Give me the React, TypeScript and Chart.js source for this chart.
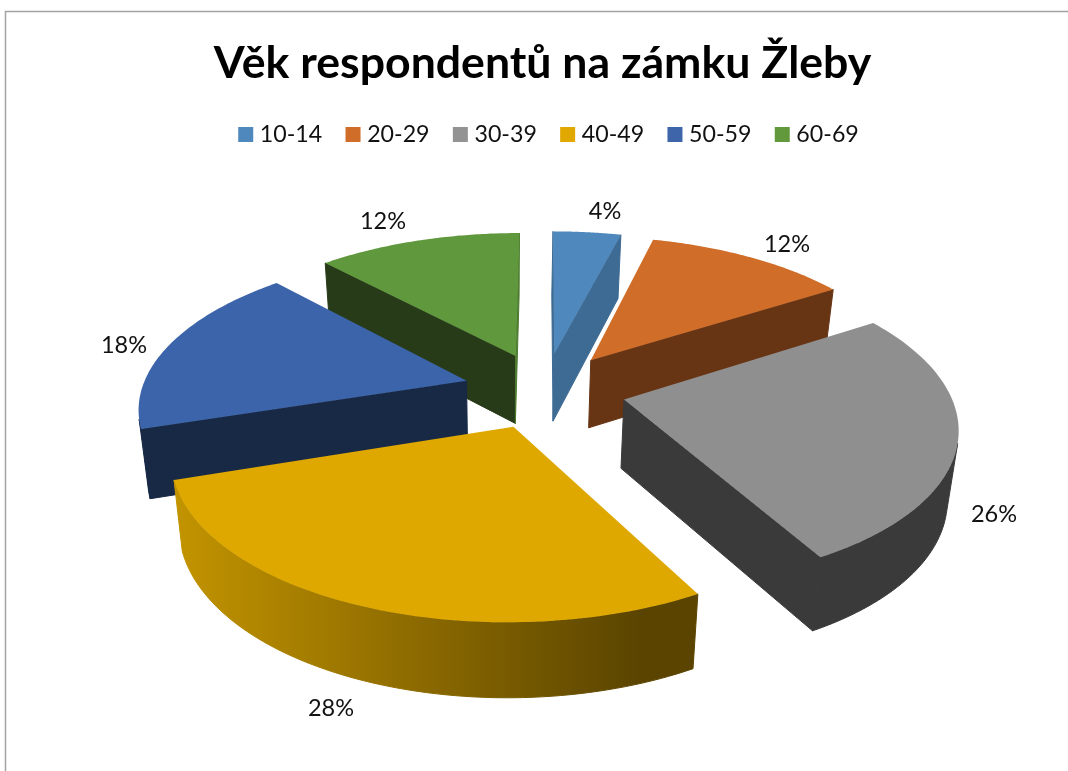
import React, { useEffect, useRef } from "react";
import { Chart, registerables } from "chart.js";

Chart.register(...registerables);

const titleText = "Věk respondentů na zámku Žleby";
const categories = ["10-14", "20-29", "30-39", "40-49", "50-59", "60-69"];
const shares = [4, 12, 26, 28, 18, 12];

const topColors = ["#4f88bc", "#cf6d29", "#8f8f8f", "#dfa800", "#3c64aa", "#60983d"];
const legendColors = ["#4f88bc", "#cf6d29", "#939393", "#e0a800", "#3e64aa", "#63993d"];
const startCutColors = ["#3e6b94", "#673414", "#3a3a3a", "#5a4400", "#182945", "#283b18"];
const endCutColors = ["#3e6b94", "#673414", "#3a3a3a", "#5a4400", "#182945", "#4e7c30"];
const rimLeftColors = ["#3e6b94", "#673414", "#3a3a3a", "#c39400", "#182945", "#283b18"];
const rimRightColors = ["#3e6b94", "#673414", "#3a3a3a", "#5a4400", "#182945", "#283b18"];
const labelAnchors: [number, number][] = [
  [605, 211], [787, 244], [994, 514], [331, 708], [124, 345], [383, 221],
];

// view of the tilted pie
const view = {
  cx: 544.5, cy: 390, rx: 325, ry: 152, persp: 0.157, depth: 68.5,
  shrinkX: 0.025, shrinkY: 0.03, driftX: -1, depthPersp: 0.85, explode: 0.25,
};

function project(X: number, Y: number, z: number): [number, number] {
  const f = 1 / (1 - view.persp * Y);
  return [
    view.cx + view.rx * X * f * (1 - view.shrinkX * z) + view.driftX * z,
    view.cy + view.ry * Y * f * (1 - view.shrinkY * z) + view.depth * z * (1 + (f - 1) * view.depthPersp),
  ];
}

const pie3d = {
  id: "pie3d",
  afterLayout(chart: any) {
    const shift = (box: any, d: number) => { box.left += d; box.right += d; };
    shift(chart.titleBlock, 8.5);
    shift(chart.legend, 17);
  },
  beforeDraw(chart: any) {
    const { ctx, width, height } = chart;
    ctx.save();
    ctx.fillStyle = "#ffffff";
    ctx.fillRect(0, 0, width, height);
    ctx.strokeStyle = "#a3a3a3";
    ctx.lineWidth = 1.5;
    ctx.beginPath();
    ctx.moveTo(5.5, height);
    ctx.lineTo(5.5, 11.5);
    ctx.lineTo(width, 11.5);
    ctx.stroke();
    ctx.restore();
  },
  beforeDatasetsDraw(chart: any) {
    const { ctx } = chart;
    const arcs: any[] = chart.getDatasetMeta(0).data;
    const slices = arcs.map((arc, i) => {
      const { startAngle, endAngle } = arc.getProps(["startAngle", "endAngle"], true);
      return { i, a0: startAngle, a1: endAngle, mid: (startAngle + endAngle) / 2 };
    });
    slices.sort((p, q) => Math.sin(p.mid) - Math.sin(q.mid));
    const fillPoly = (pts: [number, number][], fill: any, seal = false) => {
      ctx.beginPath();
      pts.forEach((p, k) => (k ? ctx.lineTo(p[0], p[1]) : ctx.moveTo(p[0], p[1])));
      ctx.closePath();
      ctx.fillStyle = fill;
      ctx.fill();
      if (seal) {
        ctx.strokeStyle = fill;
        ctx.lineWidth = 1;
        ctx.stroke();
      }
    };
    const visible = (a: [number, number], b: [number, number], aLow: [number, number]) =>
      (b[0] - a[0]) * (aLow[1] - a[1]) - (b[1] - a[1]) * (aLow[0] - a[0]) < 0;

    ctx.save();
    for (const s of slices) {
      const ox = Math.cos(s.mid) * view.explode;
      const oy = Math.sin(s.mid) * view.explode;
      const n = 72;
      const angles = Array.from({ length: n + 1 }, (_, k) => s.a0 + ((s.a1 - s.a0) * k) / n);
      const top = angles.map((a) => project(ox + Math.cos(a), oy + Math.sin(a), 0));
      const low = angles.map((a) => project(ox + Math.cos(a), oy + Math.sin(a), 1));
      const apexTop = project(ox, oy, 0);
      const apexLow = project(ox, oy, 1);

      // cut faces
      if (visible(apexTop, top[0], apexLow)) fillPoly([apexTop, top[0], low[0], apexLow], startCutColors[s.i], true);
      if (visible(top[n], apexTop, low[n])) fillPoly([top[n], apexTop, apexLow, low[n]], endCutColors[s.i], true);

      // curved rim
      let first = -1, last = -1;
      for (let k = 0; k < n; k++) {
        if (visible(top[k], top[k + 1], low[k])) {
          if (first < 0) first = k;
          last = k + 1;
        }
      }
      if (first >= 0) {
        const xs = top.map((p) => p[0]);
        const grad = ctx.createLinearGradient(Math.min(...xs), 0, Math.max(...xs), 0);
        grad.addColorStop(0, rimLeftColors[s.i]);
        grad.addColorStop(0.89, rimRightColors[s.i]);
        grad.addColorStop(1, rimRightColors[s.i]);
        fillPoly([...top.slice(first, last + 1), ...low.slice(first, last + 1).reverse()], grad, true);
      }

      // top face
      fillPoly([apexTop, ...top], topColors[s.i]);
    }
    ctx.restore();
    return false;
  },
  afterDraw(chart: any) {
    const { ctx } = chart;
    const total = shares.reduce((a, b) => a + b, 0);
    ctx.save();
    ctx.fillStyle = "#111111";
    ctx.font = "23.5px Lato";
    ctx.textAlign = "center";
    ctx.textBaseline = "middle";
    shares.forEach((v, i) => {
      ctx.fillText(`${Math.round((v / total) * 100)}%`, labelAnchors[i][0], labelAnchors[i][1]);
    });
    ctx.restore();
  },
};

export default function App() {
  const ref = useRef<HTMLCanvasElement | null>(null);
  useEffect(() => {
    document.body.style.margin = "0";
    const chart = new Chart(ref.current as HTMLCanvasElement, {
      type: "pie",
      data: {
        labels: categories,
        datasets: [{ data: shares, backgroundColor: topColors, borderWidth: 0 }],
      },
      options: {
        responsive: false,
        animation: false,
        plugins: {
          title: {
            display: true,
            text: titleText,
            color: "#000000",
            font: { family: "Lato", size: 44.6, weight: "bold" },
            padding: { top: 37, bottom: 4 },
          },
          legend: {
            display: true,
            position: "top",
            labels: {
              color: "#111111",
              font: { family: "Lato", size: 23.2 },
              boxWidth: 5,
              boxHeight: 5,
              padding: 28.3,
              generateLabels: () =>
                categories.map((text, i) => ({
                  text,
                  fillStyle: legendColors[i],
                  strokeStyle: legendColors[i],
                  lineWidth: 10,
                  lineJoin: "miter",
                  index: i,
                  datasetIndex: 0,
                  fontColor: "#111111",
                })),
            },
          },
          tooltip: { enabled: false },
        },
      },
      plugins: [pie3d],
    } as any);
    return () => chart.destroy();
  }, []);
  return <canvas ref={ref} width={1068} height={771} style={{ display: "block" }} />;
}
